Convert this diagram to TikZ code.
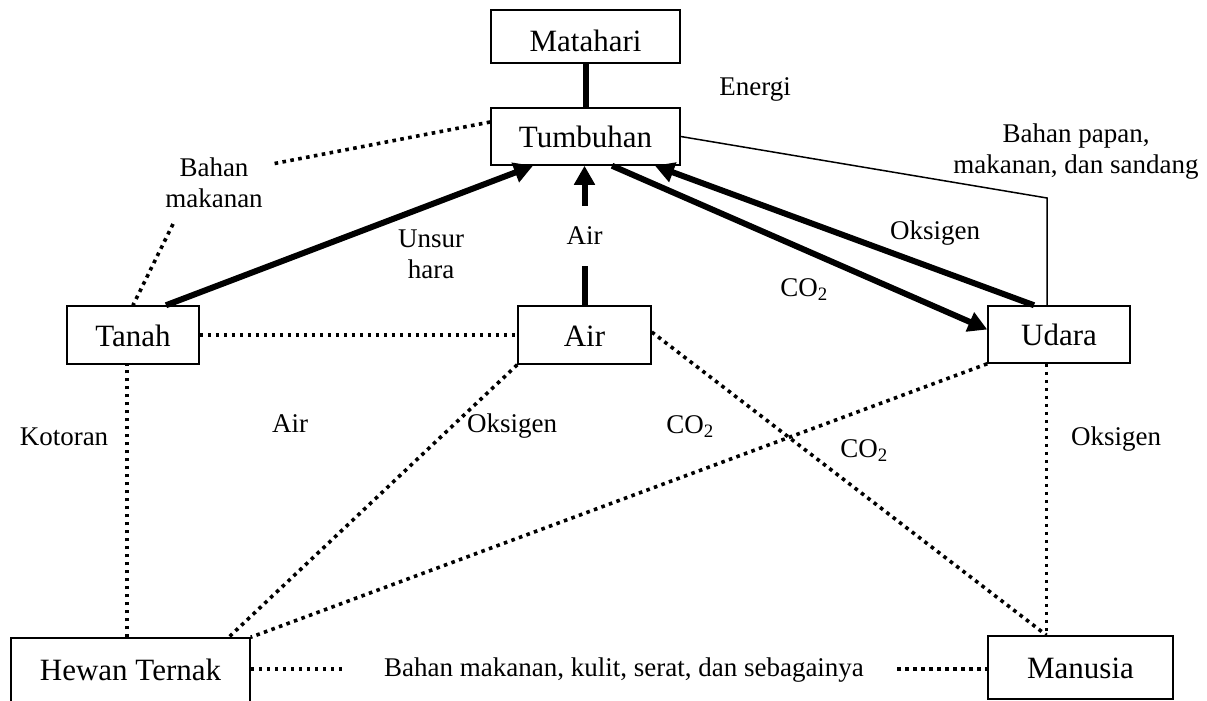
\documentclass[tikz,border=0pt]{standalone}
\usepackage{fontspec}
\setmainfont{Liberation Serif}
\usetikzlibrary{arrows.meta}
\begin{document}
\begin{tikzpicture}[x=1pt,y=-1pt,
  box/.style={draw, line width=1.5pt, inner sep=0pt,
    font=\fontsize{31}{37}\selectfont, text height=22pt, text depth=0pt},
  lbl/.style={font=\fontsize{27}{31}\selectfont, inner sep=0pt, align=center},
  oneline/.style={lbl, text height=17pt, text depth=0pt},
  heavy/.style={line width=6pt},
  flow/.style={line width=6pt, -{Triangle[length=19pt,width=20pt]}},
  dots/.style={line width=3.6pt, dash pattern=on 3.6pt off 4.4pt},
  link/.style={line width=1.5pt}]
\useasboundingbox (0,0) rectangle (1207,701);

% boxes
\node[box, minimum width=189pt, minimum height=53pt, text height=30pt] (sun) at (585.5,36.5) {Matahari};
\node[box, minimum width=189pt, minimum height=57pt] (plant) at (585.5,136.5) {Tumbuhan};
\node[box, minimum width=132pt, minimum height=58pt] (soil) at (133,335) {Tanah};
\node[box, minimum width=133pt, minimum height=58pt] (water) at (584.5,335) {Air};
\node[box, minimum width=142pt, minimum height=57pt] (air) at (1059,334.5) {Udara};
\node[box, minimum width=239pt, minimum height=64pt, text height=20pt] (cattle) at (130.5,670) {Hewan Ternak};
\node[box, minimum width=185pt, minimum height=63pt] (human) at (1080.5,667.5) {Manusia};

% solid flows
\draw[heavy] (sun.south) -- (plant.north);
\draw[flow] ([xshift=33pt]soil.north) -- ([xshift=-52.5pt]plant.south);
\draw[flow] (water.north) -- (water.north |- plant.south)
  node[midway, oneline, fill=white, minimum width=134pt, minimum height=60pt] (waterlbl) {Air};
\draw[flow] ([xshift=26.5pt]plant.south) -- ([yshift=5pt]air.west);
\draw[flow] ([xshift=-25pt]air.north) -- ([xshift=69.5pt]plant.south);
\coordinate (bend) at (1047,198);
\draw[link] (plant.east) -- (bend) -- (bend |- air.north);

% dotted relations
\coordinate (foodA) at (272,164);
\coordinate (foodB) at (173,224);
\draw[dots] ([yshift=14.5pt]plant.west) -- (foodA);
\draw[dots] (foodB) -- (soil.north);
\draw[dots] (soil.east) -- (water.west);
\draw[dots] ([xshift=-3.5pt]cattle.north) -- ([xshift=-3.5pt]cattle.north |- soil.south);
\draw[dots] (water.south west) -- ([xshift=-22pt]cattle.north east);
\draw[dots] (air.south west) -- (cattle.north east);
\draw[dots] ([yshift=3pt]water.east) -- ([xshift=-34pt]human.north);
\draw[dots] ([xshift=-12.5pt]air.south) -- ([xshift=-34pt]human.north);
\coordinate (prodL) at (345,669);
\coordinate (prodR) at (897,669);
\draw[dots] (cattle.east |- prodL) -- (prodL);
\draw[dots] (prodR) -- (human.west |- prodR);

% labels
\node[oneline] (energy) at (755,87) {Energi};
\node[lbl] (food) at (214,183) {Bahan\\makanan};
\node[lbl] (nutrient) at (431,254) {Unsur\\hara};
\node[lbl] (goods) at (1076,152) {Bahan papan,\\makanan, dan sandang};
\node[oneline] (oxyup) at (935,231) {Oksigen};
\node[oneline] (coup) at (804,288) {CO\textsubscript{2}};
\node[oneline] (dung) at (64,437) {Kotoran};
\node[oneline] (waterlow) at (290,424) {Air};
\node[oneline] (oxylow) at (512,424) {Oksigen};
\node[oneline] (coleft) at (690,425) {CO\textsubscript{2}};
\node[oneline] (coright) at (864,449) {CO\textsubscript{2}};
\node[oneline] (oxyright) at (1116,437) {Oksigen};
\node[oneline] (products) at (624,668) {Bahan makanan, kulit, serat, dan sebagainya};
\end{tikzpicture}
\end{document}
